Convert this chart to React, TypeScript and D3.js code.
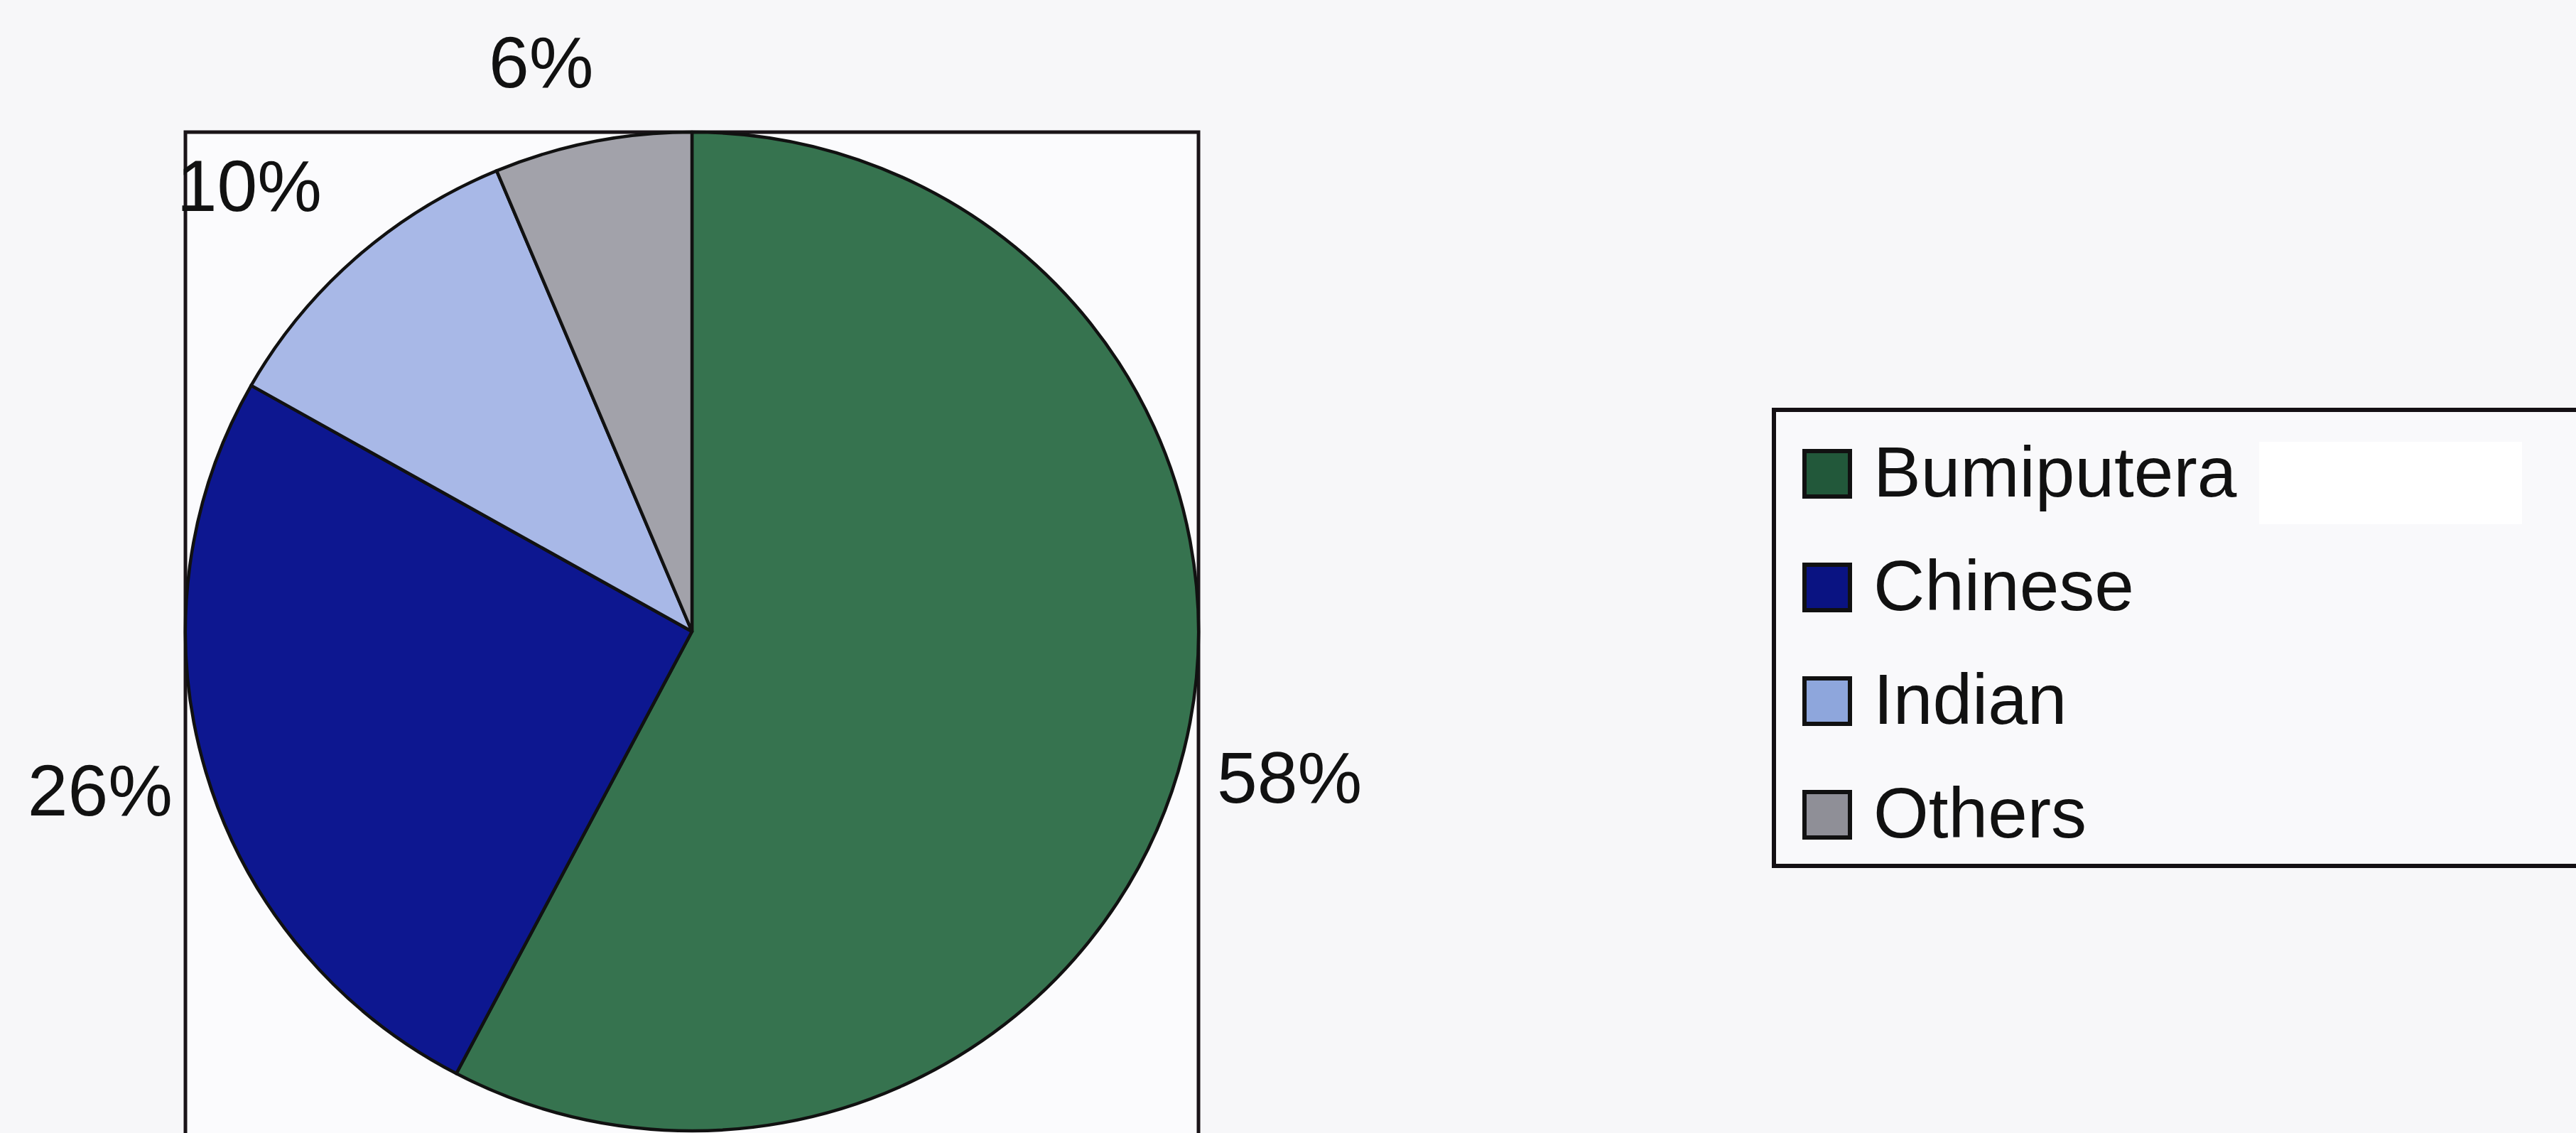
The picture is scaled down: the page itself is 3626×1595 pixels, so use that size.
import React from "react";
import * as d3 from "d3";

const categories = ["Bumiputera", "Chinese", "Indian", "Others"];
const values = [57.7, 25.5, 10.5, 6.3];
const labels = ["58%", "26%", "10%", "6%"];
const colors = ["#36734f", "#0d1790", "#a8b8e7", "#a2a2aa"];
const swatchColors = ["#22583a", "#0a1382", "#8ea6dc", "#8f8f97"];

const W = 3626;
const H = 1595;
const FONT = "'Liberation Sans', Arial, sans-serif";

export default function App() {
  const plot = { x0: 261, y0: 186, x1: 1687, y1: 1640 };
  const cx = (plot.x0 + plot.x1) / 2;
  const rx = (plot.x1 - plot.x0) / 2;
  const ry = 703;
  const cy = plot.y0 + ry;

  const pie = d3.pie<number>().sort(null).value((d) => d)(values);
  const arc = d3.arc<d3.PieArcDatum<number>>().innerRadius(0).outerRadius(rx);

  const labelPos = [
    { x: 1713, y: 1130, anchor: "start" },
    { x: 243, y: 1148, anchor: "end" },
    { x: 453, y: 297, anchor: "end" },
    { x: 688, y: 123, anchor: "start" },
  ];

  const legend = { x: 2497, y: 577, w: 1200, h: 642 };
  const rowY = d3.scaleLinear().domain([0, 3]).range([699, 1179]);

  return (
    <svg
      width={W}
      height={H}
      style={{ position: "absolute", left: 0, top: 0, background: "#f7f7f9" }}
      fontFamily={FONT}
    >
      <rect x={0} y={0} width={W} height={H} fill="#f7f7f9" />
      <rect
        x={plot.x0}
        y={plot.y0}
        width={plot.x1 - plot.x0}
        height={plot.y1 - plot.y0}
        fill="#fbfbfd"
        stroke="#1a1418"
        strokeWidth={5}
      />
      <g transform={`translate(${cx},${cy}) scale(1,${ry / rx})`}>
        {pie.map((p, i) => (
          <path
            key={categories[i]}
            d={arc(p) || ""}
            fill={colors[i]}
            stroke="#111"
            strokeWidth={4.5}
            strokeLinejoin="round"
          />
        ))}
      </g>
      {labels.map((t, i) => (
        <text
          key={t}
          x={labelPos[i].x}
          y={labelPos[i].y}
          textAnchor={labelPos[i].anchor as any}
          fontSize={102}
          fill="#111"
        >
          {t}
        </text>
      ))}
      <rect
        x={legend.x}
        y={legend.y}
        width={legend.w}
        height={legend.h}
        fill="#f9f9fb"
        stroke="#141014"
        strokeWidth={6}
      />
      <rect x={3180} y={622} width={370} height={116} fill="#ffffff" />
      {categories.map((c, i) => (
        <g key={c}>
          <rect
            x={2540}
            y={rowY(i) - 64}
            width={64}
            height={64}
            fill={swatchColors[i]}
            stroke="#111"
            strokeWidth={6}
          />
          <text x={2637} y={rowY(i)} fontSize={100} fill="#111">
            {c}
          </text>
        </g>
      ))}
    </svg>
  );
}
